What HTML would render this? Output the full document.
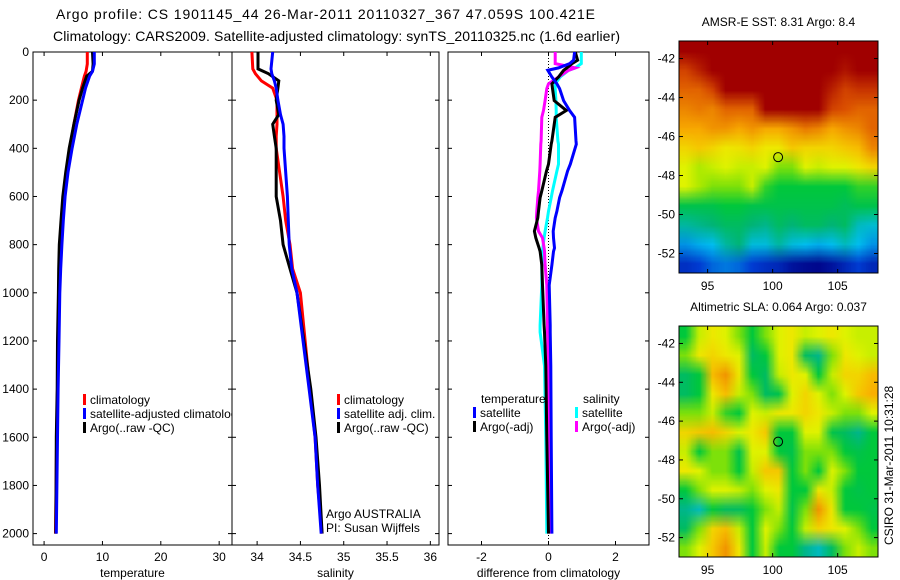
<!DOCTYPE html>
<html><head><meta charset="utf-8">
<style>
html,body{margin:0;padding:0;background:#fff;}
#wrap{position:relative;width:900px;height:580px;overflow:hidden;font-family:"Liberation Sans",sans-serif;}
svg{position:absolute;left:0;top:0;}
canvas{position:absolute;}
text{font-family:"Liberation Sans",sans-serif;fill:#000;}
</style></head>
<body>
<div id="wrap">
<canvas id="sstMap" style="left:679px;top:41px" width="199" height="232"></canvas>
<canvas id="slaMap" style="left:679px;top:326px" width="199" height="231"></canvas>
<svg id="fig" width="900" height="580">
<defs><clipPath id="clipP1"><rect x="33" y="52" width="199" height="493"/></clipPath></defs>
</svg>
</div>
<script>
// ---------- data ----------
const depthsT = [0,50,80,100,150,200,300,400,500,600,700,800,900,1000,1200,1400,1600,1800,2000];
const climT = [7.4,7.4,7.2,6.9,6.4,5.9,5.1,4.4,3.8,3.4,3.1,2.9,2.75,2.6,2.45,2.3,2.15,2.05,1.95];
const satT  = [8.6,8.6,8.3,7.8,7.1,6.6,5.6,4.8,4.1,3.6,3.3,3.05,2.85,2.7,2.55,2.4,2.3,2.2,2.1];
const argoT = [8.3,8.4,8.3,7.3,6.6,6.0,5.1,4.3,3.7,3.2,2.9,2.6,2.5,2.45,2.3,2.25,2.1,2.05,2.0];

const depthsS = [0,70,90,120,150,200,260,300,350,400,600,700,800,900,1000,1400,1600,1800,2000];
const climS = [33.94,33.95,33.98,34.05,34.18,34.23,34.23,34.23,34.22,34.22,34.3,34.33,34.38,34.41,34.5,34.61,34.67,34.7,34.75];
const satS  = [34.18,34.16,34.17,34.2,34.22,34.24,34.27,34.3,34.31,34.31,34.35,34.36,34.37,34.4,34.46,34.6,34.67,34.7,34.74];
const argoS = [34.01,34.01,34.13,34.25,34.24,34.22,34.25,34.18,34.2,34.22,34.22,34.27,34.3,34.38,34.46,34.62,34.68,34.72,34.75];

const depthsD = [0,34,48,66,76,104,132,152,202,243,271,369,383,466,494,577,605,661,689,744,772,814,828,884,968,1135,1163,1303,1600,2000];
const diffTsat  = [0.78,0.75,0.63,0.3,-0.02,0.1,0.25,0.33,0.45,0.63,0.78,0.82,0.83,0.65,0.57,0.4,0.33,0.25,0.2,0.14,0.15,0.18,0.15,0.1,0.02,0.05,0.05,0.07,0.08,0.1];
const diffTargo = [0.8,0.87,0.7,0.55,0.45,0.3,0.1,0.12,0.17,0.53,0.2,0.1,0.08,0.0,-0.06,-0.2,-0.25,-0.3,-0.32,-0.42,-0.38,-0.28,-0.25,-0.2,-0.18,-0.13,-0.12,-0.08,-0.05,0.0];
const diffSsat  = [0.98,0.98,0.98,0.8,0.6,0.35,0.2,0.2,0.22,0.23,0.23,0.28,0.3,0.3,0.25,0.12,0.08,0.0,-0.03,-0.1,-0.13,-0.17,-0.18,-0.2,-0.2,-0.25,-0.25,-0.12,-0.08,-0.05];
const diffSargo = [0.2,0.2,0.2,0.8,0.6,0.3,0.0,-0.05,-0.1,-0.15,-0.2,-0.22,-0.23,-0.25,-0.26,-0.3,-0.32,-0.35,-0.36,-0.3,-0.18,-0.13,-0.12,-0.1,-0.05,-0.03,-0.03,0.0,0.03,0.05];

const depthTicks = [0,200,400,600,800,1000,1200,1400,1600,1800,2000];
const tempTicks = [0,10,20,30];
const salTicks = [34,34.5,35,35.5,36];
const diffTicks = [-2,0,2];
const lonTicks = [95,100,105];
const latTicks = [-42,-44,-46,-48,-50,-52];

const sstGrid = [
[1,1,1,1,1,1,1,1,1,1,1,1,1,1,1],
[0.9,0.95,1,1,1,1,1,1,1,1,1,1,0.97,1,1],
[0.85,0.85,0.9,1,1,1,1,1,1,1,1,0.95,0.9,0.92,0.92],
[0.8,0.82,0.8,0.85,0.85,0.85,1,1,1,1,1,0.9,0.88,0.85,0.85],
[0.75,0.75,0.78,0.78,0.75,0.78,0.75,0.75,0.78,0.82,0.8,0.75,0.78,0.8,0.85],
[0.68,0.7,0.68,0.65,0.66,0.68,0.65,0.65,0.7,0.68,0.68,0.68,0.7,0.72,0.8],
[0.62,0.58,0.6,0.62,0.6,0.6,0.62,0.55,0.55,0.62,0.6,0.62,0.62,0.65,0.68],
[0.62,0.58,0.55,0.55,0.55,0.6,0.52,0.5,0.5,0.5,0.5,0.5,0.5,0.52,0.52],
[0.48,0.48,0.48,0.5,0.5,0.48,0.48,0.48,0.48,0.48,0.48,0.48,0.46,0.48,0.48],
[0.38,0.4,0.42,0.45,0.45,0.42,0.4,0.45,0.42,0.45,0.45,0.42,0.45,0.35,0.33],
[0.25,0.28,0.3,0.38,0.42,0.32,0.32,0.38,0.32,0.3,0.28,0.3,0.35,0.3,0.25],
[0.12,0.15,0.2,0.22,0.2,0.15,0.12,0.1,0.05,0.03,0.02,0.05,0.1,0.15,0.1]
];
const slaGrid = [
[0.5,0.6,0.65,0.62,0.55,0.5,0.55,0.62,0.65,0.6,0.62,0.65,0.62,0.6,0.6],
[0.55,0.65,0.68,0.65,0.62,0.45,0.5,0.62,0.65,0.45,0.4,0.55,0.65,0.62,0.6],
[0.45,0.5,0.72,0.78,0.65,0.5,0.45,0.6,0.65,0.62,0.5,0.6,0.68,0.68,0.72],
[0.45,0.5,0.65,0.72,0.6,0.55,0.45,0.48,0.62,0.68,0.62,0.55,0.62,0.7,0.74],
[0.55,0.55,0.6,0.52,0.5,0.62,0.6,0.65,0.65,0.68,0.65,0.6,0.55,0.55,0.62],
[0.68,0.7,0.72,0.68,0.62,0.65,0.7,0.5,0.5,0.62,0.62,0.48,0.45,0.4,0.5],
[0.6,0.5,0.55,0.55,0.48,0.62,0.62,0.5,0.48,0.55,0.55,0.55,0.5,0.48,0.5],
[0.65,0.62,0.55,0.55,0.5,0.6,0.7,0.7,0.5,0.55,0.5,0.62,0.55,0.5,0.5],
[0.5,0.55,0.62,0.62,0.6,0.55,0.62,0.65,0.5,0.5,0.65,0.6,0.5,0.48,0.5],
[0.4,0.35,0.5,0.45,0.45,0.5,0.55,0.6,0.48,0.55,0.78,0.65,0.5,0.5,0.48],
[0.45,0.55,0.68,0.72,0.6,0.5,0.62,0.55,0.5,0.6,0.68,0.65,0.62,0.55,0.5],
[0.55,0.62,0.7,0.78,0.65,0.5,0.6,0.5,0.5,0.4,0.35,0.45,0.55,0.6,0.55]
];
const argoLon = 100.421, argoLat = -47.059;

// ---------- helpers ----------
const NS = "http://www.w3.org/2000/svg";
const svg = document.getElementById('fig');
function mk(tag, attrs, parent){ const e=document.createElementNS(NS,tag); for(const k in attrs) e.setAttribute(k,attrs[k]); (parent||svg).appendChild(e); return e; }
function txt(x,y,s,anchor,size,parent){ const t=mk('text',{x:x,y:y,'text-anchor':anchor||'start','font-size':size||12},parent); t.textContent=s; return t; }

const yD = d => 52 + d*0.2408;
const P1 = {x0:33,x1:232,lo:-1.9,hi:32.2};
const P2 = {x0:232,x1:439,lo:33.71,hi:36.1};
const P3 = {x0:448,x1:649,lo:-3,hi:3};
const TOP=52, BOT=545;
function xf(P){ return v => P.x0 + (v-P.lo)/(P.hi-P.lo)*(P.x1-P.x0); }

function panel(P, name, xticks, xlab, xfmt, leftLabels){
  const g = mk('g',{});
  
  
  mk('rect',{x:P.x0,y:TOP,width:P.x1-P.x0,height:BOT-TOP,fill:'none',stroke:'#000','stroke-width':1},g);
  const X = xf(P);
  xticks.forEach(v=>{
    const x=X(v);
    mk('line',{x1:x,y1:TOP,x2:x,y2:TOP+4,stroke:'#000'},g);
    mk('line',{x1:x,y1:BOT,x2:x,y2:BOT-4,stroke:'#000'},g);
    const t=txt(x,561,xfmt(v),'middle',12,g);
    
    
  });
  depthTicks.forEach(d=>{
    const y=yD(d);
    mk('line',{x1:P.x0,y1:y,x2:P.x0+4,y2:y,stroke:'#000'},g);
    mk('line',{x1:P.x1,y1:y,x2:P.x1-4,y2:y,stroke:'#000'},g);
    if(leftLabels){
      const t=txt(P.x0-4,y+4,String(d),'end',12,g);
      
      
    }
  });
  const xl=txt((P.x0+P.x1)/2,577,xlab,'middle',12,g);
  
  
  return X;
}
function line(X, depths, vals, color, name, w){
  const pts = depths.map((d,i)=>X(vals[i]).toFixed(1)+','+yD(d).toFixed(1)).join(' ');
  const p = mk('polyline',{points:pts,fill:'none',stroke:color,'stroke-width':w||3,'stroke-linejoin':'miter'});
  
  
}
function legendEntry(x,y,color,label,name,parent){
  const r=mk('rect',{x:x,y:y-10,width:3,height:11,fill:color},parent);
  
  
  const t=txt(x+7,y,label,'start',12,parent);
  
  
}

// ---------- titles ----------
let t1=txt(56,19,'Argo profile: CS 1901145_44 26-Mar-2011 20110327_367 47.059S 100.421E','start',14);
t1.setAttribute('textLength','539');


let t2=txt(53,41,'Climatology: CARS2009. Satellite-adjusted climatology: synTS_20110325.nc (1.6d earlier)','start',14);
t2.setAttribute('textLength','567');



// ---------- panel 1 temperature ----------
const X1 = panel(P1,'temperature-panel',tempTicks,'temperature',v=>String(v),true);
line(X1,depthsT,climT,'#f00','clim-temp-line');
line(X1,depthsT,argoT,'#000','argo-temp-line');
line(X1,depthsT,satT,'#00f','sat-temp-line');
const leg1 = mk('g',{'clip-path':'url(#clipP1)'});


legendEntry(83,404,'#f00','climatology','legend-climatology',leg1);
legendEntry(83,418,'#00f','satellite-adjusted climatology','legend-satellite-adjusted',leg1);
legendEntry(83,432,'#000','Argo(..raw -QC)','legend-argo',leg1);

// ---------- panel 2 salinity ----------
const X2 = panel(P2,'salinity-panel',salTicks,'salinity',v=>String(v),false);
line(X2,depthsS,climS,'#f00','clim-sal-line');
line(X2,depthsS,argoS,'#000','argo-sal-line');
line(X2,depthsS,satS,'#00f','sat-sal-line');
legendEntry(337,404,'#f00','climatology','legend-sal-climatology');
legendEntry(337,418,'#00f','satellite adj. clim.','legend-sal-satellite');
legendEntry(337,432,'#000','Argo(..raw -QC)','legend-sal-argo');
let a1=txt(326,518,'Argo AUSTRALIA','start',12);  
let a2=txt(326,532,'PI: Susan Wijffels','start',12);  

// ---------- panel 3 differences ----------
const X3 = panel(P3,'difference-panel',diffTicks,'difference from climatology',v=>String(v),false);
const zl=mk('line',{x1:X3(0),y1:TOP,x2:X3(0),y2:BOT,stroke:'#000','stroke-dasharray':'1,2'});


line(X3,depthsD,diffSsat,'#0ff','sal-satellite-diff-line');
line(X3,depthsD,diffSargo,'#f0f','sal-argo-diff-line');
line(X3,depthsD,diffTargo,'#000','temp-argo-diff-line');
line(X3,depthsD,diffTsat,'#00f','temp-satellite-diff-line');
let lt=txt(481,403,'temperature','start',12);  
legendEntry(473,417,'#00f','satellite','legend-temp-satellite');
legendEntry(473,431,'#000','Argo(-adj)','legend-temp-argo');
let ls=txt(583,403,'salinity','start',12);  
legendEntry(575,417,'#0ff','satellite','legend-sal-sat');
legendEntry(575,431,'#f0f','Argo(-adj)','legend-sal-argo-adj');

// ---------- maps ----------
const cmapStops = [[0,[0,0,130]],[0.15,[0,60,210]],[0.3,[0,190,240]],[0.42,[0,180,120]],[0.5,[0,200,60]],[0.56,[150,230,0]],[0.63,[235,245,0]],[0.74,[250,175,0]],[0.88,[220,80,0]],[1,[160,0,0]]];
function cmap(v){
  for(let i=1;i<cmapStops.length;i++){
    if(v<=cmapStops[i][0]){
      const [a,ca]=cmapStops[i-1],[b,cb]=cmapStops[i]; const f=(v-a)/(b-a);
      return ca.map((c,k)=>Math.round(c+(cb[k]-c)*f));
    }
  }
  return cmapStops[cmapStops.length-1][1];
}
const MAP = {lon0:92.8,lon1:108.1,lat0:-41.1,lat1:-53.0};
function drawMap(id, grid, title, top, h, name){
  const cv=document.getElementById(id), ctx=cv.getContext('2d');
  const rows=grid.length, cols=grid[0].length;
  const small=document.createElement('canvas'); small.width=cols; small.height=rows;
  const sc=small.getContext('2d'); const img=sc.createImageData(cols,rows);
  grid.forEach((row,r)=>row.forEach((v,c)=>{const col=cmap(v);const o=(r*cols+c)*4;img.data[o]=col[0];img.data[o+1]=col[1];img.data[o+2]=col[2];img.data[o+3]=255;}));
  sc.putImageData(img,0,0);
  ctx.imageSmoothingEnabled=true;
  ctx.drawImage(small,0,0,cv.width,cv.height);
  const x0=679,x1=878;
  const g=mk('g',{});
  
  
  mk('rect',{x:x0,y:top,width:x1-x0,height:h,fill:'none',stroke:'#000'},g);
  const LX=v=>x0+(v-MAP.lon0)/(MAP.lon1-MAP.lon0)*(x1-x0);
  const LY=v=>top+(v-MAP.lat0)/(MAP.lat1-MAP.lat0)*h;
  lonTicks.forEach(v=>{
    mk('line',{x1:LX(v),y1:top,x2:LX(v),y2:top+4,stroke:'#000'},g);
    mk('line',{x1:LX(v),y1:top+h,x2:LX(v),y2:top+h-4,stroke:'#000'},g);
    const t=txt(LX(v),top+h+17,String(v),'middle',12,g);
    
    
  });
  latTicks.forEach(v=>{
    mk('line',{x1:x0,y1:LY(v),x2:x0+4,y2:LY(v),stroke:'#000'},g);
    mk('line',{x1:x1,y1:LY(v),x2:x1-4,y2:LY(v),stroke:'#000'},g);
    const t=txt(x0-4,LY(v)+4,String(v),'end',12,g);
    
    
  });
  const c=mk('circle',{cx:LX(argoLon),cy:LY(argoLat),r:4.5,fill:'none',stroke:'#000','stroke-width':1},g);
  
  
  const tt=txt((x0+x1)/2,top-15,title,'middle',12,g);
  
  
}
drawMap('sstMap',sstGrid,'AMSR-E SST: 8.31  Argo: 8.4',41,232,'sst-map-axes');
drawMap('slaMap',slaGrid,'Altimetric SLA: 0.064  Argo: 0.037',326,231,'sla-map-axes');

const cs=txt(0,0,'CSIRO 31-Mar-2011 10:31:28','start',12);
cs.setAttribute('transform','translate(893,545) rotate(-90)');


</script>
</body></html>
